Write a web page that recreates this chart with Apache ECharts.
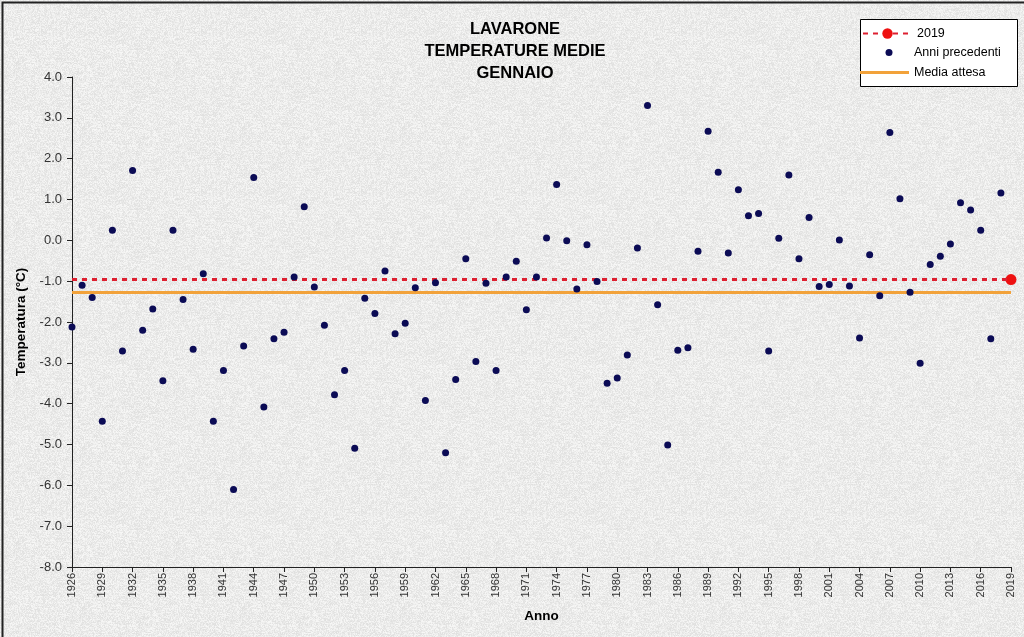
<!DOCTYPE html>
<html>
<head>
<meta charset="utf-8">
<script src="https://cdn.jsdelivr.net/npm/echarts@6/dist/echarts.min.js"></script>
<style>
  html, body { margin: 0; padding: 0; }
  #main { width: 1024px; height: 637px; }
</style>
</head>
<body>
<div id="main"></div>
<script>
// anni 1926-2018
var years = [
  1926, 1927, 1928, 1929, 1930, 1931, 1932, 1933, 1934, 1935,
  1936, 1937, 1938, 1939, 1940, 1941, 1942, 1943, 1944, 1945,
  1946, 1947, 1948, 1949, 1950, 1951, 1952, 1953, 1954, 1955,
  1956, 1957, 1958, 1959, 1960, 1961, 1962, 1963, 1964, 1965,
  1966, 1967, 1968, 1969, 1970, 1971, 1972, 1973, 1974, 1975,
  1976, 1977, 1978, 1979, 1980, 1981, 1982, 1983, 1984, 1985,
  1986, 1987, 1988, 1989, 1990, 1991, 1992, 1993, 1994, 1995,
  1996, 1997, 1998, 1999, 2000, 2001, 2002, 2003, 2004, 2005,
  2006, 2007, 2008, 2009, 2010, 2011, 2012, 2013, 2014, 2015,
  2016, 2017, 2018
];
// temperature medie di gennaio, anni precedenti
var tempPrecedenti = [
  -2.12, -1.10, -1.40, -4.43, 0.25, -2.71, 1.71, -2.20, -1.68, -3.44,
  0.25, -1.45, -2.67, -0.82, -4.43, -3.19, -6.10, -2.59, 1.54, -4.08,
  -2.41, -2.25, -0.90, 0.82, -1.14, -2.08, -3.78, -3.19, -5.09, -1.42,
  -1.79, -0.75, -2.29, -2.03, -1.16, -3.92, -1.04, -5.20, -3.41, -0.45,
  -2.97, -1.05, -3.19, -0.90, -0.51, -1.70, -0.90, 0.06, 1.37, -0.01,
  -1.19, -0.11, -1.01, -3.50, -3.37, -2.81, -0.19, 3.30, -1.58, -5.01,
  -2.69, -2.63, -0.27, 2.67, 1.67, -0.31, 1.24, 0.60, 0.66, -2.71,
  0.05, 1.60, -0.45, 0.56, -1.13, -1.08, 0.01, -1.12, -2.39, -0.35,
  -1.36, 2.64, 1.02, -1.27, -3.01, -0.59, -0.39, -0.09, 0.92, 0.74,
  0.25, -2.41, 1.16
];
var year2019 = 2019;
var temp2019 = -0.96;
var mediaAttesa = -1.26;

var yTicks = [-8, -7, -6, -5, -4, -3, -2, -1, 0, 1, 2, 3, 4];

var font = "'Liberation Sans', Arial, sans-serif";

// sfondo granito (solo texture, non dati)
function granite() {
  var c = document.createElement('canvas');
  c.width = 160; c.height = 160;
  var ctx = c.getContext('2d');
  var img = ctx.createImageData(160, 160);
  var seed = 12345;
  for (var i = 0; i < 160 * 160; i++) {
    seed = (seed * 1103515245 + 12345) & 0x7fffffff;
    var n = (seed >> 8) % 24;
    var g = 247 - n;
    img.data[i * 4] = g;
    img.data[i * 4 + 1] = g;
    img.data[i * 4 + 2] = g - 1;
    img.data[i * 4 + 3] = 255;
  }
  ctx.putImageData(img, 0, 0);
  return c;
}

var precedenti = years.map(function (y, i) { return [y, tempPrecedenti[i]]; });

var legendText = { fontSize: 12.5, color: '#000', fontFamily: font };

var chart = echarts.init(document.getElementById('main'));
chart.setOption({
  animation: false,
  backgroundColor: { image: granite(), repeat: 'repeat' },
  textStyle: { fontFamily: font },
  title: {
    text: 'LAVARONE\nTEMPERATURE MEDIE\nGENNAIO',
    left: 510,
    top: 13,
    textAlign: 'center',
    textStyle: { fontSize: 16.5, fontWeight: 'bold', color: '#000', lineHeight: 22, fontFamily: font }
  },
  graphic: [{
    type: 'rect',
    left: 860, top: 19,
    shape: { width: 157, height: 67 },
    style: { fill: '#fff', stroke: '#000', lineWidth: 1 },
    z: 0
  }, {
    type: 'rect',
    left: 0, top: 0,
    shape: { width: 1023, height: 636 },
    style: { fill: null, stroke: '#222', lineWidth: 2 },
    silent: true
  }],
  legend: [{
    data: ['2019'],
    left: 862, top: 27, padding: 0,
    itemWidth: 49, itemHeight: 13,
    textStyle: legendText
  }, {
    data: ['Anni precedenti'],
    left: 885.5, top: 46, padding: 0,
    itemWidth: 40, itemHeight: 7,
    textStyle: legendText
  }, {
    data: [{ name: 'Media attesa', icon: 'rect' }],
    left: 860, top: 66, padding: 0,
    itemWidth: 49, itemHeight: 3,
    textStyle: legendText
  }],
  grid: { left: 72, right: 13, top: 77, bottom: 70, outerBoundsMode: 'none' },
  xAxis: {
    type: 'value',
    min: 1926, max: 2019, interval: 3,
    name: 'Anno',
    nameLocation: 'middle',
    nameGap: 42,
    nameTextStyle: { fontSize: 13.5, fontWeight: 'bold', color: '#000', fontFamily: font },
    axisLine: { show: true, onZero: false, lineStyle: { color: '#222', width: 1 } },
    axisTick: { show: true, length: 5, lineStyle: { color: '#222' } },
    axisLabel: {
      rotate: 90, fontSize: 11, color: '#333', margin: 6,
      formatter: function (v) { return String(v); }
    },
    splitLine: { show: false }
  },
  yAxis: {
    type: 'value',
    min: yTicks[0], max: yTicks[yTicks.length - 1], interval: 1,
    name: 'Temperatura (°C)',
    nameLocation: 'middle',
    nameGap: 37,
    nameTextStyle: { fontSize: 13.5, fontWeight: 'bold', color: '#000', fontFamily: font },
    axisLine: { show: true, lineStyle: { color: '#222', width: 1 } },
    axisTick: { show: true, length: 5, lineStyle: { color: '#222' } },
    axisLabel: {
      fontSize: 13, color: '#333', margin: 10,
      formatter: function (v) { return v.toFixed(1); }
    },
    splitLine: { show: false }
  },
  series: [{
    name: 'Media attesa',
    type: 'line',
    data: [],
    color: '#f2a23a',
    lineStyle: { color: '#f2a23a', width: 3 },
    markLine: {
      silent: true,
      symbol: 'none',
      label: { show: false },
      lineStyle: { color: '#f2a23a', width: 3, type: 'solid' },
      data: [{ yAxis: mediaAttesa }]
    },
    z: 2
  }, {
    name: '2019',
    type: 'line',
    data: [[year2019, temp2019]],
    symbol: 'circle',
    symbolSize: 11,
    color: '#ee1111',
    itemStyle: { color: '#ee1111', opacity: 1 },
    lineStyle: { color: '#dd2030', width: 3, type: [5, 5] },
    markLine: {
      silent: true,
      symbol: 'none',
      label: { show: false },
      lineStyle: { color: '#dd2030', width: 3, type: [5, 5] },
      data: [{ yAxis: temp2019 }]
    },
    z: 4
  }, {
    name: 'Anni precedenti',
    type: 'scatter',
    data: precedenti,
    symbol: 'circle',
    symbolSize: 7,
    color: '#0b0b55',
    itemStyle: { color: '#0b0b55', opacity: 1 },
    z: 5
  }]
});
</script>
</body>
</html>
